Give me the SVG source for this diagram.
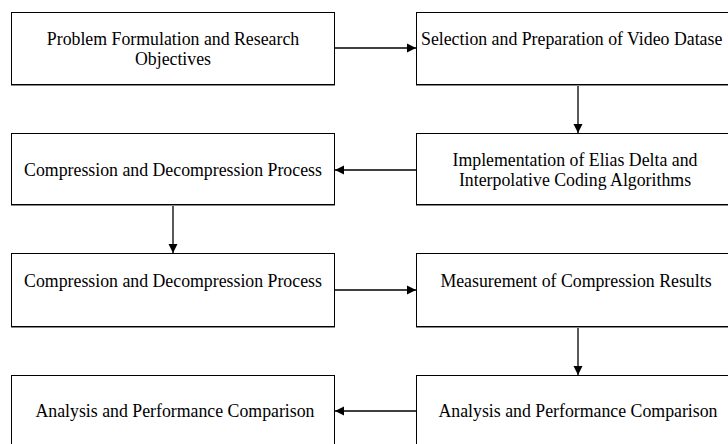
<svg xmlns="http://www.w3.org/2000/svg" width="728" height="444" viewBox="0 0 728 444">
<style>
.box{fill:#fff;stroke:#000;stroke-width:1}
.sh{fill:none;stroke:#888;stroke-width:1.2}
.t{font-family:"Liberation Serif","Times New Roman",serif;font-size:17.8px;fill:#000;text-anchor:middle}
.c{stroke:#000;stroke-width:1.3;fill:none;marker-end:url(#ah)}
</style>
<defs>
<marker id="ah" markerWidth="10" markerHeight="10" refX="9" refY="5" orient="auto" markerUnits="userSpaceOnUse">
<path d="M0,0.5 L9,5 L0,9.5 Z" fill="#000"/>
</marker>
</defs>
<rect width="728" height="444" fill="#fff"/>
<g id="connectors">
<line class="c" x1="335" y1="48" x2="416" y2="48"/>
<line class="c" x1="578" y1="85" x2="578" y2="133"/>
<line class="c" x1="416" y1="170" x2="335" y2="170"/>
<line class="c" x1="173" y1="205" x2="173" y2="253"/>
<line class="c" x1="335" y1="290" x2="416" y2="290"/>
<line class="c" x1="578" y1="327" x2="578" y2="375"/>
<line class="c" x1="416" y1="411" x2="335" y2="411"/>
</g>
<g id="n1">
<rect class="box" x="11.5" y="12.5" width="323" height="72"/>
<line class="sh" x1="11" y1="85.5" x2="335" y2="85.5"/>
<text class="t" x="173" y="45">Problem Formulation and Research</text>
<text class="t" x="173" y="65">Objectives</text>
</g>
<g id="n2">
<rect class="box" x="416.5" y="12.5" width="323" height="72"/>
<line class="sh" x1="416" y1="85.5" x2="740" y2="85.5"/>
<text class="t" x="421" y="45" style="text-anchor:start">Selection and Preparation of Video Datase</text>
</g>
<g id="n3">
<rect class="box" x="416.5" y="133.5" width="323" height="71"/>
<line class="sh" x1="416" y1="205.5" x2="740" y2="205.5"/>
<text class="t" x="575" y="166">Implementation of Elias Delta and</text>
<text class="t" x="575" y="186">Interpolative Coding Algorithms</text>
</g>
<g id="n4">
<rect class="box" x="11.5" y="133.5" width="323" height="71"/>
<line class="sh" x1="11" y1="205.5" x2="335" y2="205.5"/>
<text class="t" x="173" y="176">Compression and Decompression Process</text>
</g>
<g id="n5">
<rect class="box" x="11.5" y="253.5" width="323" height="73"/>
<line class="sh" x1="11" y1="327.5" x2="335" y2="327.5"/>
<text class="t" x="173" y="287">Compression and Decompression Process</text>
</g>
<g id="n6">
<rect class="box" x="416.5" y="253.5" width="323" height="73"/>
<line class="sh" x1="416" y1="327.5" x2="740" y2="327.5"/>
<text class="t" x="576" y="287">Measurement of Compression Results</text>
</g>
<g id="n7">
<rect class="box" x="416.5" y="375.5" width="323" height="73"/>
<text class="t" x="578" y="417">Analysis and Performance Comparison</text>
</g>
<g id="n8">
<rect class="box" x="11.5" y="375.5" width="323" height="73"/>
<text class="t" x="175" y="417">Analysis and Performance Comparison</text>
</g>
</svg>
